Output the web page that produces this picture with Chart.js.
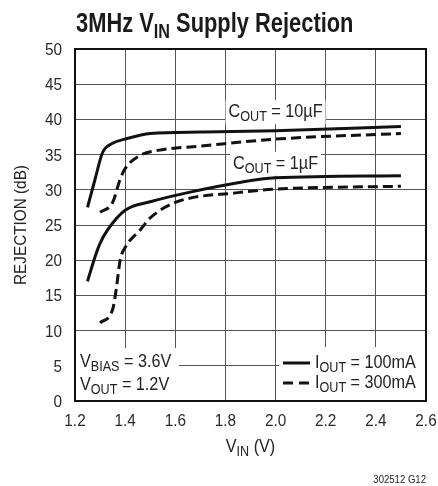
<!DOCTYPE html>
<html lang="en">
<head>
  <meta charset="utf-8">
  <title>3MHz VIN Supply Rejection</title>
  <script src="https://cdn.jsdelivr.net/npm/chart.js"></script>
  <style>
    html, body { margin: 0; padding: 0; background: #fff; }
  </style>
</head>
<body>
  <canvas id="chart" width="438" height="486"></canvas>
  <script>
    // axis ticks
    const xTicks = [1.2, 1.4, 1.6, 1.8, 2.0, 2.2, 2.4, 2.6];
    const yTicks = [0, 5, 10, 15, 20, 25, 30, 35, 40, 45, 50];

    // COUT = 10uF
    const vin10a  = [1.25, 1.28, 1.31, 1.35, 1.40, 1.50, 1.70, 2.00, 2.50];
    const rej10a  = [27.5, 31.5, 35.3, 36.6, 37.2, 38.0, 38.2, 38.4, 39.0];   // 100mA
    const vin10b  = [1.30, 1.35, 1.38, 1.40, 1.46, 1.53, 1.70, 2.00, 2.50];
    const rej10b  = [26.8, 28.2, 31.5, 33.0, 34.9, 35.6, 36.2, 37.2, 38.0];   // 300mA

    // COUT = 1uF
    const vin1a = [1.25, 1.28, 1.30, 1.33, 1.40, 1.50, 1.65, 1.85, 2.00, 2.50];
    const rej1a = [17.0, 20.5, 22.4, 24.3, 27.1, 28.3, 29.6, 31.0, 31.7, 32.0]; // 100mA
    const vin1b = [1.30, 1.35, 1.365, 1.38, 1.40, 1.46, 1.50, 1.60, 1.85, 2.00, 2.50];
    const rej1b = [11.1, 13.0, 16.0, 20.0, 21.8, 24.3, 26.0, 28.2, 29.6, 30.1, 30.5]; // 300mA

    // no condensed face installed, so text is squeezed horizontally
    const FONT = '"Liberation Sans", Arial, sans-serif';
    const SX = 0.9;
    const pts = (xs, ys) => xs.map((v, i) => ({ x: v, y: ys[i] }));

    // text with subscripts: parts = [[text, isSub], ...]
    function measure(ctx, parts, size, weight, sx) {
      const subSize = Math.round(size * 0.75);
      let total = 0;
      parts.forEach(p => {
        ctx.font = (weight || '') + ' ' + (p[1] ? subSize : size) + 'px ' + FONT;
        total += ctx.measureText(p[0]).width;
      });
      return total * sx;
    }

    function rich(ctx, parts, x, y, size, align, weight, sx) {
      sx = sx || SX;
      const w = weight || '';
      const subSize = Math.round(size * 0.75);
      const total = measure(ctx, parts, size, w, sx);
      const start = align === 'center' ? x - total / 2 : align === 'right' ? x - total : x;
      ctx.save();
      ctx.translate(start, y);
      ctx.scale(sx, 1);
      ctx.textAlign = 'left';
      ctx.textBaseline = 'alphabetic';
      let cx = 0;
      parts.forEach(p => {
        ctx.font = w + ' ' + (p[1] ? subSize : size) + 'px ' + FONT;
        ctx.fillText(p[0], cx, p[1] ? size * 0.22 : 0);
        cx += ctx.measureText(p[0]).width;
      });
      ctx.restore();
      return total;
    }

    function labelBox(ctx, parts, x, y, size) {
      const total = measure(ctx, parts, size, '', SX);
      ctx.fillStyle = '#fff';
      ctx.fillRect(x - total / 2 - 3, y - 17, total + 6, 24);
      ctx.fillStyle = '#222';
      rich(ctx, parts, x, y, size, 'center');
    }

    const annot = {
      id: 'annot',
      beforeDatasetsDraw(chart) {
        const { ctx, chartArea: a, scales: { x, y } } = chart;
        ctx.save();
        // curve labels
        labelBox(ctx, [['C', 0], ['OUT', 1], [' = 10µF', 0]], x.getPixelForValue(2.0), y.getPixelForValue(40.3), 18);
        labelBox(ctx, [['C', 0], ['OUT', 1], [' = 1µF', 0]], x.getPixelForValue(2.0), y.getPixelForValue(33.0), 18);

        // conditions box, bottom left
        ctx.fillStyle = '#fff';
        ctx.fillRect(a.left + 1, a.bottom - 53, 103, 52);
        ctx.fillStyle = '#222';
        rich(ctx, [['V', 0], ['BIAS', 1], [' = 3.6V', 0]], a.left + 5, a.bottom - 34, 18, 'left');
        rich(ctx, [['V', 0], ['OUT', 1], [' = 1.2V', 0]], a.left + 5, a.bottom - 11, 18, 'left');

        // legend, bottom right
        ctx.fillStyle = '#fff';
        ctx.fillRect(a.right - 147, a.bottom - 54, 146, 53);
        ctx.strokeStyle = '#111';
        ctx.lineWidth = 3;
        ctx.beginPath();
        ctx.moveTo(a.right - 143, a.bottom - 38);
        ctx.lineTo(a.right - 116, a.bottom - 38);
        ctx.stroke();
        ctx.setLineDash([10, 6]);
        ctx.beginPath();
        ctx.moveTo(a.right - 143, a.bottom - 18);
        ctx.lineTo(a.right - 116, a.bottom - 18);
        ctx.stroke();
        ctx.setLineDash([]);
        ctx.fillStyle = '#222';
        rich(ctx, [['I', 0], ['OUT', 1], [' = 100mA', 0]], a.right - 111, a.bottom - 33, 18, 'left');
        rich(ctx, [['I', 0], ['OUT', 1], [' = 300mA', 0]], a.right - 111, a.bottom - 13, 18, 'left');
        ctx.restore();
      },
      afterDraw(chart) {
        const { ctx, chartArea: a, scales: { x, y } } = chart;
        ctx.save();
        ctx.strokeStyle = '#111';
        ctx.lineWidth = 2;
        ctx.strokeRect(a.left, a.top, a.right - a.left, a.bottom - a.top);

        // tick labels
        ctx.fillStyle = '#2a2a2a';
        xTicks.forEach(v => rich(ctx, [[v.toFixed(1), 0]], x.getPixelForValue(v), a.bottom + 25, 17, 'center', '', 0.9));
        yTicks.forEach(v => rich(ctx, [[String(v), 0]], a.left - 13, y.getPixelForValue(v) + 6, 17, 'right', '', 0.9));

        ctx.fillStyle = '#1a1a1a';
        rich(ctx, [['3MHz V', 0], ['IN', 1], [' Supply Rejection', 0]], 76, 32, 27, 'left', 'bold', 0.81);

        ctx.fillStyle = '#222';
        rich(ctx, [['V', 0], ['IN', 1], [' (V)', 0]], (a.left + a.right) / 2, 452, 18, 'center');

        rich(ctx, [['302512 G12', 0]], a.right, 483, 11, 'right', '', 0.87);

        ctx.translate(26, (a.top + a.bottom) / 2);
        ctx.rotate(-Math.PI / 2);
        rich(ctx, [['REJECTION (dB)', 0]], 0, 0, 17, 'center', '', 0.9);
        ctx.restore();
      }
    };

    const lineStyle = (dash) => ({
      borderColor: '#111',
      borderWidth: 3,
      borderDash: dash,
      pointRadius: 0,
      fill: false,
      cubicInterpolationMode: 'monotone'
    });

    new Chart(document.getElementById('chart'), {
      type: 'line',
      data: {
        datasets: [
          { label: '10uF 100mA', data: pts(vin10a, rej10a), ...lineStyle([]) },
          { label: '10uF 300mA', data: pts(vin10b, rej10b), ...lineStyle([10, 5]) },
          { label: '1uF 100mA', data: pts(vin1a, rej1a), ...lineStyle([]) },
          { label: '1uF 300mA', data: pts(vin1b, rej1b), ...lineStyle([10, 5]) }
        ]
      },
      options: {
        responsive: false,
        animation: false,
        layout: { padding: { top: 49, right: 12, left: 0, bottom: 0 } },
        plugins: { legend: { display: false }, tooltip: { enabled: false } },
        scales: {
          x: {
            type: 'linear',
            min: 1.2,
            max: 2.6,
            afterBuildTicks: s => { s.ticks = xTicks.map(v => ({ value: v })); },
            afterFit: s => { s.height = 85; },
            grid: { color: '#555', lineWidth: 1, drawTicks: false },
            border: { color: '#111', width: 2 },
            ticks: { display: false }
          },
          y: {
            min: 0,
            max: 50,
            afterBuildTicks: s => { s.ticks = yTicks.map(v => ({ value: v })); },
            afterFit: s => { s.width = 75; },
            grid: { color: '#555', lineWidth: 1, drawTicks: false },
            border: { color: '#111', width: 2 },
            ticks: { display: false }
          }
        }
      },
      plugins: [annot]
    });
  </script>
</body>
</html>
